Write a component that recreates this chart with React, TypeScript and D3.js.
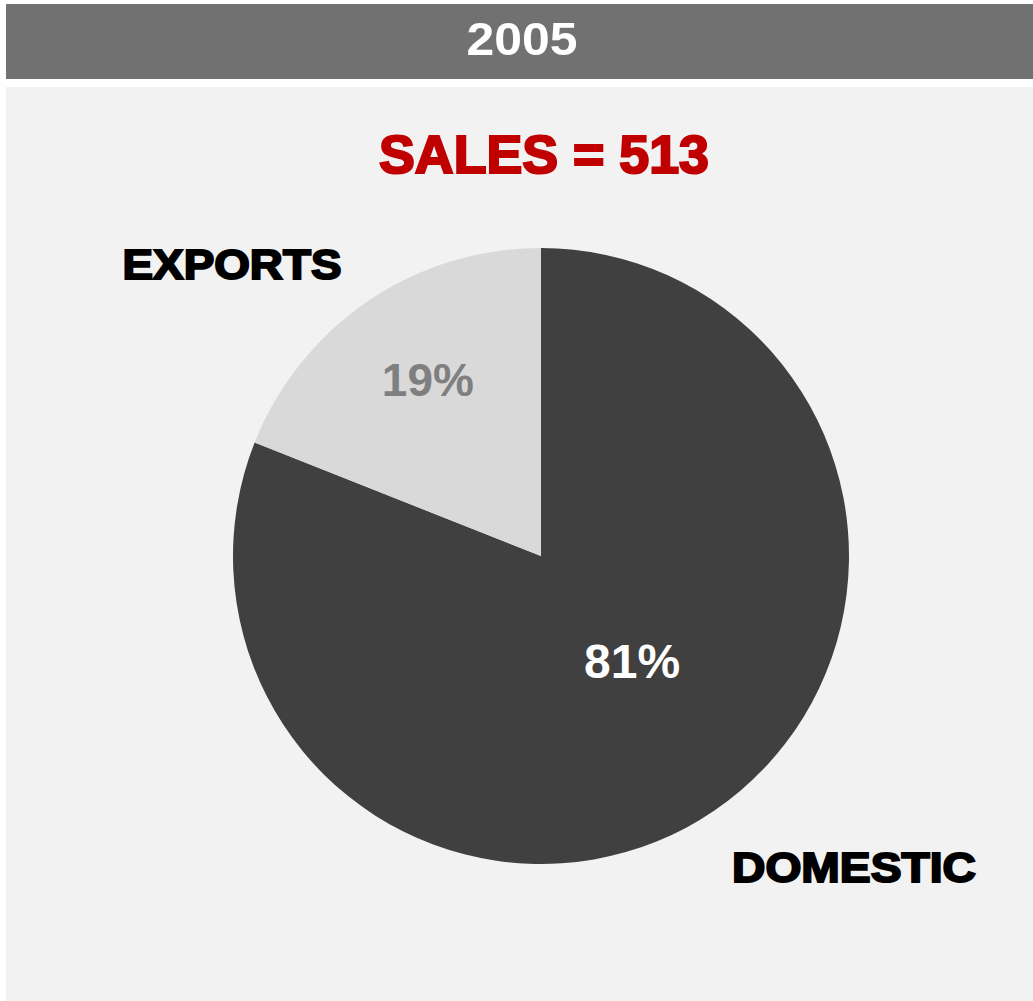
import React from "react";
import * as d3 from "d3";

const categories = ["DOMESTIC", "EXPORTS"];
const shares = [81, 19];
const year = "2005";
const salesTotal = 513;

const sliceColors = ["#404040", "#d9d9d9"];
const pctColors = ["#ffffff", "#7f7f7f"];
// label placement: radial fraction of radius and angular shift (degrees)
const pctRadius = [0.451, 0.682];
const pctAngleShift = [-6.8, 1.6];

const W = 1033;
const H = 1001;
const cx = 541;
const cy = 556;
const R = 308;

const heavy = { fontFamily: "'Liberation Sans', Arial, sans-serif", fontWeight: 700 } as const;

export default function App() {
  const pie = d3
    .pie<number>()
    .sort(null)
    .value((d) => d)
    .startAngle(0)
    .endAngle(2 * Math.PI);
  const arcs = pie(shares);
  const arc = d3.arc<d3.PieArcDatum<number>>().innerRadius(0).outerRadius(R);
  const total = d3.sum(shares);

  return (
    <svg
      width={W}
      height={H}
      style={{ position: "absolute", left: 0, top: 0, background: "#ffffff" }}
    >
      <rect x={6} y={4} width={W - 6} height={75} fill="#717171" />
      <text
        x={522}
        y={55}
        textAnchor="middle"
        fill="#ffffff"
        fontSize={47}
        textLength={111}
        lengthAdjust="spacingAndGlyphs"
        {...heavy}
      >
        {year}
      </text>
      <rect x={6} y={87} width={W - 6} height={H - 87} fill="#f2f2f2" />

      <text
        x={544}
        y={173}
        textAnchor="middle"
        fill="#c00000"
        stroke="#c00000"
        strokeWidth={2.2}
        fontSize={53}
        textLength={330}
        lengthAdjust="spacingAndGlyphs"
        {...heavy}
      >
        {`SALES = ${salesTotal}`}
      </text>

      <g transform={`translate(${cx},${cy})`}>
        {arcs.map((a, i) => (
          <path key={categories[i]} d={arc(a) || ""} fill={sliceColors[i]} />
        ))}
        {arcs.map((a, i) => {
          const r = R * pctRadius[i];
          const ang = (a.startAngle + a.endAngle) / 2 + (pctAngleShift[i] * Math.PI) / 180;
          const x = Math.sin(ang) * r;
          const y = -Math.cos(ang) * r;
          return (
            <text
              key={"p" + i}
              x={x}
              y={y}
              dy="0.36em"
              textAnchor="middle"
              fill={pctColors[i]}
              fontSize={i === 0 ? 48 : 46}
              {...heavy}
            >
              {Math.round((shares[i] / total) * 100)}%
            </text>
          );
        })}
      </g>

      <text
        x={232}
        y={279}
        textAnchor="middle"
        fill="#000000"
        stroke="#000000"
        strokeWidth={2}
        fontSize={42}
        textLength={219}
        lengthAdjust="spacingAndGlyphs"
        {...heavy}
      >
        {categories[1]}
      </text>
      <text
        x={854}
        y={882}
        textAnchor="middle"
        fill="#000000"
        stroke="#000000"
        strokeWidth={2}
        fontSize={42}
        textLength={244}
        lengthAdjust="spacingAndGlyphs"
        {...heavy}
      >
        {categories[0]}
      </text>
    </svg>
  );
}
